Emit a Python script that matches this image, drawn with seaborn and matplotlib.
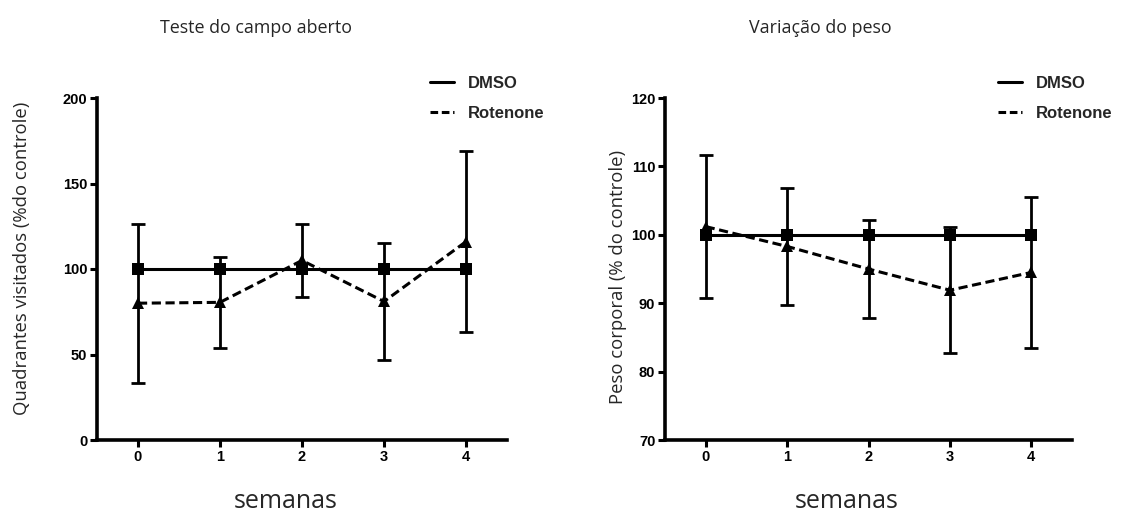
"""Open field test and body weight variation, DMSO vs Rotenone."""

import matplotlib
matplotlib.use("Agg")

import matplotlib.pyplot as plt
from matplotlib.lines import Line2D
import pandas as pd
import seaborn as sns

weeks = [0, 1, 2, 3, 4]

# open field (% of control)
field_dmso = [100, 100, 100, 100, 100]
field_rot = [80, 80.5, 105, 81, 116]
field_rot_err = [46.5, 26.5, 21.5, 34, 53]

# body weight (% of control)
weight_dmso = [100, 100, 100, 100, 100]
weight_rot = [101.2, 98.3, 95.0, 91.9, 94.5]
weight_rot_err = [10.4, 8.6, 7.2, 9.2, 11.0]

sns.set_style("ticks")
plt.rcParams["font.family"] = ["Liberation Sans", "DejaVu Sans"]

LABEL_FONT = ["Open Sans", "DejaVu Sans"]
W, H = 1132, 518


def draw_panel(ax, dmso, rot, rot_err, ylim, yticks, ylabel, ylabel_xy,
               xlabel_x, title, title_x, legend_x):
    df = pd.DataFrame({
        "semana": weeks * 2,
        "valor": dmso + rot,
        "grupo": ["DMSO"] * len(weeks) + ["Rotenone"] * len(weeks),
    })
    sns.lineplot(
        data=df, x="semana", y="valor", style="grupo",
        markers={"DMSO": "s", "Rotenone": "^"},
        dashes={"DMSO": "", "Rotenone": (3, 1.5)},
        color="black", linewidth=2.2, markersize=8.5, markeredgewidth=0,
        ax=ax, legend=False,
    )
    ax.errorbar(weeks, rot, yerr=rot_err, fmt="none", ecolor="black",
                elinewidth=2, capsize=5, capthick=2)

    ax.set_xlim(-0.5, 4.5)
    ax.set_ylim(*ylim)
    ax.set_xticks(weeks)
    ax.set_yticks(yticks)
    for lbl in ax.get_xticklabels() + ax.get_yticklabels():
        lbl.set_fontweight("bold")
        lbl.set_fontsize(10.5)
    ax.tick_params(direction="out", length=5, width=2.2, pad=2, colors="black")
    sns.despine(ax=ax)
    for side in ("left", "bottom"):
        ax.spines[side].set_linewidth(2.6)
        ax.spines[side].set_color("black")

    ax.set_xlabel("semanas", family=LABEL_FONT, fontsize=18)
    ax.xaxis.set_label_coords(xlabel_x, -0.143)
    ax.set_ylabel(ylabel, family=LABEL_FONT, fontsize=13.3)
    ax.yaxis.set_label_coords(*ylabel_xy)
    fig.text(title_x, 1 - 28 / H, title, family=LABEL_FONT, fontsize=12.9,
             ha="center", va="center")

    handles = [
        Line2D([], [], color="black", linewidth=2.2),
        Line2D([], [], color="black", linewidth=2.2, dashes=(2.5, 1.2)),
    ]
    ax.legend(handles, ["DMSO", "Rotenone"], loc="upper left",
              bbox_to_anchor=(legend_x, 1 - 76 / H),
              bbox_transform=fig.transFigure, frameon=False,
              borderpad=0, borderaxespad=0, handlelength=1.45,
              handletextpad=0.8, labelspacing=0.9,
              prop=dict(family="Liberation Sans", weight="bold", size=12))


fig = plt.figure(figsize=(W / 100, H / 100), dpi=100)
ax1 = fig.add_axes([97 / W, 78 / H, 410 / W, 342 / H])
ax2 = fig.add_axes([665 / W, 78 / H, 407 / W, 342 / H])

draw_panel(ax1, field_dmso, field_rot, field_rot_err, (0, 200),
           [0, 50, 100, 150, 200], "Quadrantes visitados (%do controle)",
           (-0.161, 0.53), 0.46, "Teste do campo aberto", 256 / W, 430 / W)
draw_panel(ax2, weight_dmso, weight_rot, weight_rot_err, (70, 120),
           [70, 80, 90, 100, 110, 120], "Peso corporal (% do controle)",
           (-0.093, 0.477), 0.447, "Variação do peso", 820 / W, 998 / W)

fig.savefig("out.png", dpi=100)
plt.close(fig)
